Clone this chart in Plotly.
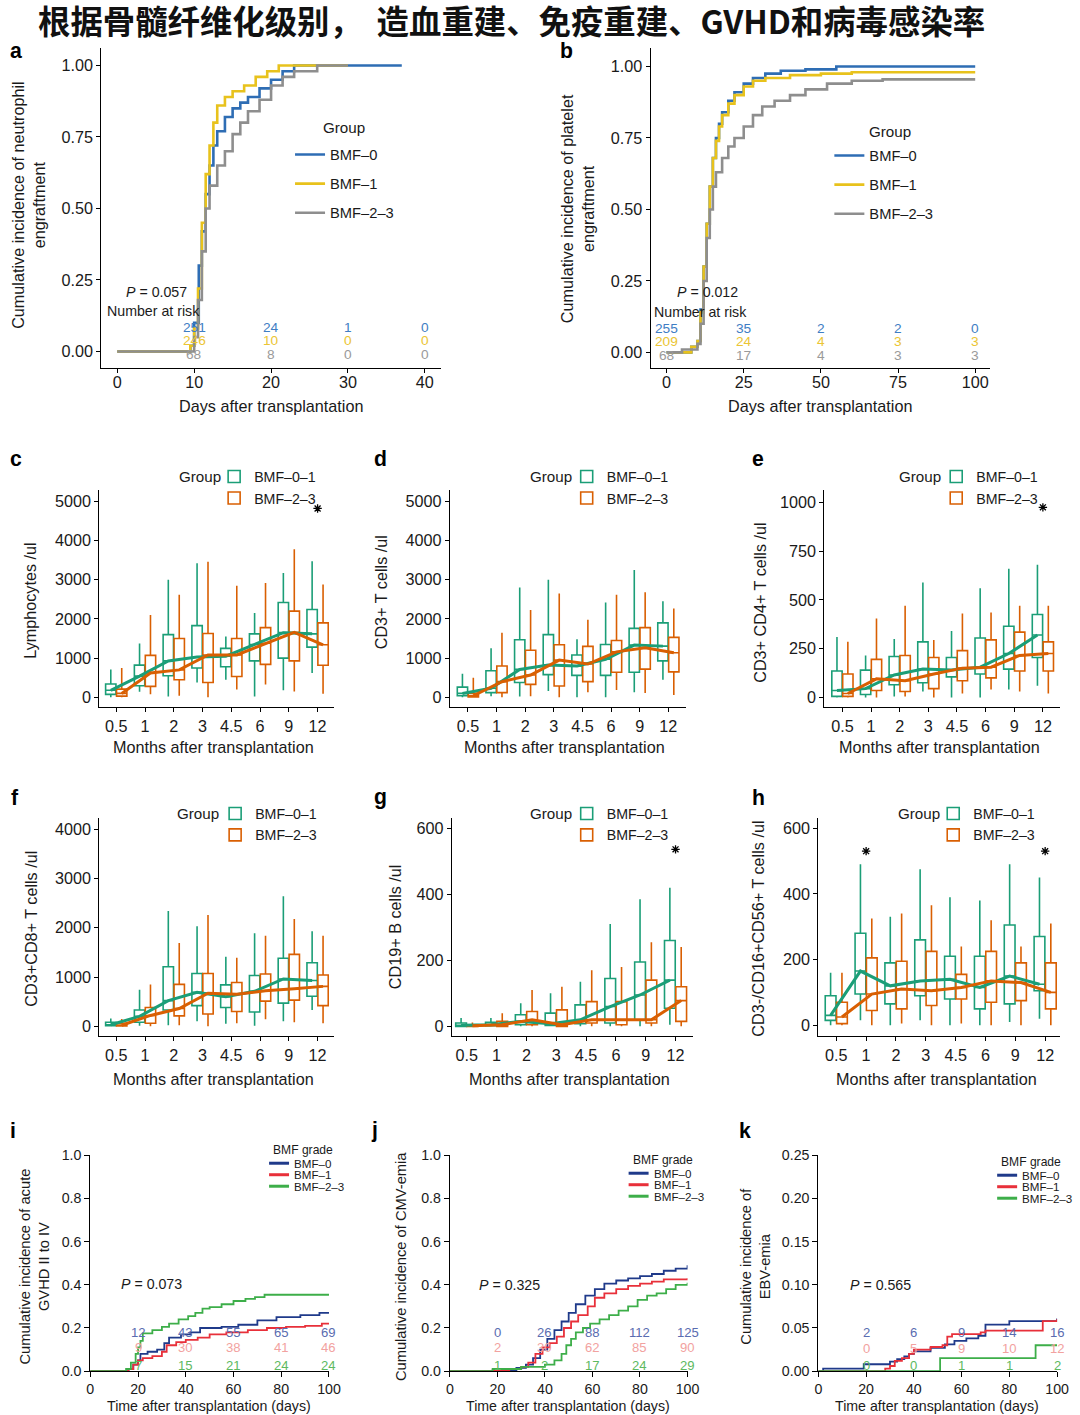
import plotly.graph_objects as go

# The photographed frame maps page pixels to picture pixels as
# picture = A * page + B (measured); positions below are given in picture
# pixels (as read from the reference) and converted back to page pixels.
AX, BX = 0.9866, 2.6
AY, BY = 0.989, 7.5
W, H = 1093, 1424
FONT = "Liberation Sans, Arial, sans-serif"
CJK = "Noto Sans CJK SC"

# ------------------------------------------------------------------ data
TITLE = "根据骨髓纤维化级别，  造血重建、免疫重建、GVHD和病毒感染率"

KM_GROUPS_AB = ["BMF\u20130", "BMF\u20131", "BMF\u20132\u20133"]

# panel a: neutrophil engraftment (days, cumulative incidence)
A_T0 = [0, 9.5, 10.0, 10.6, 11.0, 11.5, 12.0, 12.5, 13.0, 14.0, 15.0, 16.0, 17.0, 18.5, 20.0, 21.5, 23.0, 37.0]
A_Y0 = [0, 0.02, 0.10, 0.30, 0.42, 0.55, 0.65, 0.72, 0.77, 0.82, 0.85, 0.87, 0.89, 0.92, 0.95, 0.98, 1.0, 1.0]
A_T1 = [0, 9.5, 10.0, 10.5, 11.0, 11.5, 12.0, 12.5, 13.0, 14.0, 15.0, 16.5, 18.0, 19.5, 21.0, 30.0]
A_Y1 = [0, 0.02, 0.08, 0.22, 0.45, 0.62, 0.72, 0.80, 0.86, 0.89, 0.91, 0.93, 0.96, 0.98, 1.0, 1.0]
A_T2 = [0, 10.0, 10.5, 11.0, 11.5, 12.0, 13.0, 14.0, 15.0, 16.0, 17.0, 18.5, 20.0, 21.5, 23.0, 26.0, 30.0]
A_Y2 = [0, 0.05, 0.18, 0.35, 0.50, 0.58, 0.65, 0.70, 0.76, 0.80, 0.84, 0.88, 0.93, 0.96, 0.98, 1.0, 1.0]
A_RISK_T = [10, 20, 30, 40]
A_RISK0 = [251, 24, 1, 0]
A_RISK1 = [246, 10, 0, 0]
A_RISK2 = [68, 8, 0, 0]
A_P = "0.057"

# panel b: platelet engraftment
B_T0 = [0, 8, 10, 11, 12, 13, 14, 15, 16, 17, 18, 20, 22, 25, 28, 32, 37, 45, 55, 100]
B_Y0 = [0, 0.02, 0.04, 0.15, 0.30, 0.45, 0.58, 0.68, 0.75, 0.80, 0.84, 0.88, 0.91, 0.94, 0.96, 0.975, 0.985, 0.99, 1.0, 1.0]
B_T1 = [0, 8, 10, 11, 12, 13, 14, 15, 16, 17, 18, 20, 22, 25, 28, 32, 40, 50, 60, 100]
B_Y1 = [0, 0.02, 0.04, 0.14, 0.30, 0.45, 0.58, 0.68, 0.74, 0.79, 0.83, 0.87, 0.90, 0.93, 0.95, 0.96, 0.97, 0.975, 0.98, 0.98]
B_T2 = [0, 5, 10, 11, 12, 13, 14, 15, 16, 18, 20, 22, 25, 28, 31, 35, 40, 45, 52, 60, 70, 100]
B_Y2 = [0, 0.01, 0.03, 0.10, 0.25, 0.40, 0.50, 0.58, 0.63, 0.68, 0.72, 0.75, 0.79, 0.83, 0.86, 0.88, 0.90, 0.92, 0.94, 0.95, 0.955, 0.955]
B_RISK_T = [0, 25, 50, 75, 100]
B_RISK0 = [255, 35, 2, 2, 0]
B_RISK1 = [209, 24, 4, 3, 3]
B_RISK2 = [68, 17, 4, 3, 3]
B_P = "0.012"

# panels c-h: box statistics per month [lower whisker, Q1, median, Q3, upper whisker]
MONTHS = ["0.5", "1", "2", "3", "4.5", "6", "9", "12"]
BOX_GROUPS = ["BMF\u20130\u20131", "BMF\u20132\u20133"]

C_G = [[0, 76, 180, 340, 713], [144, 297, 540, 823, 1375], [20, 550, 930, 1600, 3000], [380, 750, 1030, 1830, 3420],
       [450, 780, 1050, 1250, 1550], [20, 930, 1350, 1620, 2150], [180, 1000, 1650, 2420, 3170], [620, 1280, 1620, 2240, 3470]]
C_O = [[0, 30, 100, 210, 750], [80, 280, 620, 1070, 2100], [40, 450, 700, 1500, 2620], [0, 380, 1080, 1630, 3460],
       [200, 530, 1080, 1500, 2850], [330, 840, 1380, 1780, 2920], [150, 930, 1660, 2200, 3780], [90, 820, 1340, 1900, 2880]]

D_G = [[0, 40, 100, 260, 600], [30, 120, 230, 680, 1250], [20, 380, 713, 1470, 2800], [160, 580, 823, 1600, 3000],
       [0, 560, 800, 1080, 1480], [0, 560, 970, 1350, 2420], [130, 640, 1333, 1760, 3250], [450, 930, 1307, 1900, 2450]]
D_O = [[0, 10, 40, 100, 500], [0, 120, 400, 800, 1650], [30, 330, 570, 1200, 2230], [0, 290, 950, 1340, 2650],
       [130, 400, 850, 1300, 1980], [190, 640, 1160, 1450, 2620], [110, 720, 1265, 1780, 2680], [60, 650, 1137, 1530, 2270]]

E_G = [[0, 5, 35, 135, 310], [0, 15, 45, 140, 215], [5, 65, 115, 210, 300], [30, 75, 145, 285, 590],
       [0, 105, 140, 205, 340], [0, 120, 155, 305, 560], [40, 145, 225, 365, 660], [60, 205, 320, 425, 680]]
E_O = [[0, 5, 20, 120, 285], [0, 35, 95, 195, 405], [5, 30, 85, 215, 470], [0, 45, 120, 205, 295],
       [20, 85, 150, 240, 430], [40, 100, 155, 295, 435], [30, 135, 215, 335, 470], [20, 135, 225, 285, 470]]

F_G = [[0, 10, 30, 80, 160], [10, 80, 200, 330, 740], [20, 330, 520, 1210, 2340], [100, 420, 690, 1070, 2030],
       [50, 380, 600, 840, 1410], [10, 290, 710, 1030, 1890], [100, 470, 960, 1380, 2640], [330, 610, 930, 1290, 1930]]
F_O = [[0, 5, 20, 60, 150], [0, 60, 220, 380, 850], [20, 210, 360, 850, 1690], [0, 250, 670, 1070, 2260],
       [60, 300, 650, 890, 1390], [140, 510, 720, 1060, 1840], [80, 530, 760, 1460, 2180], [60, 420, 810, 1040, 1840]]

G_G = [[0, 0, 3, 10, 25], [0, 2, 5, 12, 25], [0, 5, 15, 35, 70], [0, 3, 8, 40, 100],
       [0, 8, 20, 65, 135], [0, 10, 60, 145, 310], [0, 20, 95, 195, 385], [5, 55, 140, 260, 420]]
G_O = [[0, 0, 2, 5, 12], [0, 0, 5, 15, 40], [0, 5, 20, 45, 110], [0, 0, 5, 50, 120],
       [0, 10, 20, 75, 170], [0, 5, 20, 75, 180], [0, 10, 20, 140, 255], [0, 15, 78, 120, 240]]

H_G = [[0, 15, 30, 90, 160], [15, 95, 165, 280, 490], [0, 65, 120, 190, 330], [15, 90, 135, 260, 475],
       [0, 80, 140, 210, 390], [0, 50, 115, 210, 380], [10, 65, 150, 305, 490], [20, 105, 125, 270, 450]]
H_O = [[0, 5, 25, 70, 160], [0, 45, 95, 205, 325], [5, 50, 110, 195, 340], [0, 60, 105, 225, 365],
       [5, 80, 115, 155, 240], [0, 70, 135, 225, 320], [0, 75, 130, 190, 240], [0, 50, 100, 190, 310]]

# significance stars: (month index, y value)
C_STARS = [(7, 4820)]
E_STARS = [(7, 975)]
G_STARS = [(7, 536)]
H_STARS = [(1, 530), (7, 530)]

# panels i-k: cumulative incidence of GVHD / viraemia
KM_GROUPS_IJK = ["BMF\u20130", "BMF\u20131", "BMF\u20132\u20133"]
I_T0 = [0, 14, 16, 18, 20, 21, 24, 28, 31, 33, 38, 42, 46, 55, 62, 70, 78, 88, 96, 100]
I_Y0 = [0, 0, 0.01, 0.03, 0.05, 0.08, 0.09, 0.10, 0.13, 0.155, 0.17, 0.18, 0.20, 0.205, 0.215, 0.235, 0.25, 0.26, 0.27, 0.27]
I_T1 = [0, 16, 18, 20, 22, 26, 30, 32, 36, 40, 45, 50, 57, 66, 74, 82, 90, 97, 100]
I_Y1 = [0, 0.01, 0.03, 0.05, 0.06, 0.07, 0.09, 0.12, 0.135, 0.145, 0.155, 0.17, 0.18, 0.19, 0.20, 0.205, 0.21, 0.22, 0.22]
I_T2 = [0, 15, 17, 19, 20, 21, 22, 26, 30, 33, 37, 41, 44, 47, 50, 55, 60, 65, 69, 73, 100]
I_Y2 = [0, 0.01, 0.04, 0.08, 0.11, 0.14, 0.175, 0.19, 0.205, 0.22, 0.24, 0.255, 0.27, 0.29, 0.297, 0.31, 0.325, 0.335, 0.343, 0.354, 0.354]
I_RISK0 = [12, 43, 55, 65, 69]
I_RISK1 = [9, 30, 38, 41, 46]
I_RISK2 = [7, 15, 21, 24, 24]
I_P = "0.073"

J_T0 = [0, 20, 24, 28, 32, 35, 38, 41, 44, 47, 50, 53, 57, 61, 65, 70, 75, 80, 85, 90, 95, 100]
J_Y0 = [0, 0, 0.005, 0.015, 0.03, 0.06, 0.10, 0.15, 0.19, 0.23, 0.27, 0.31, 0.35, 0.38, 0.405, 0.42, 0.43, 0.44, 0.45, 0.465, 0.475, 0.49]
J_T1 = [0, 18, 25, 30, 33, 36, 39, 42, 45, 48, 51, 54, 58, 61, 65, 70, 75, 80, 85, 90, 100]
J_Y1 = [0, 0.005, 0.01, 0.02, 0.04, 0.08, 0.11, 0.13, 0.16, 0.20, 0.23, 0.26, 0.30, 0.34, 0.36, 0.38, 0.395, 0.405, 0.415, 0.425, 0.43]
J_T2 = [0, 18, 30, 40, 44, 47, 49, 51, 53, 56, 59, 63, 67, 71, 75, 79, 83, 87, 91, 95, 100]
J_Y2 = [0, 0.01, 0.02, 0.03, 0.05, 0.08, 0.12, 0.15, 0.18, 0.20, 0.22, 0.24, 0.26, 0.28, 0.30, 0.33, 0.35, 0.36, 0.38, 0.40, 0.41]
J_RISK0 = [0, 26, 88, 112, 125]
J_RISK1 = [2, 30, 62, 85, 90]
J_RISK2 = [1, 2, 17, 24, 29]
J_P = "0.325"

K_T0 = [0, 2, 19, 30, 33, 36, 38, 40, 47, 53, 57, 62, 67, 70, 80, 100]
K_Y0 = [0, 0.003, 0.008, 0.011, 0.014, 0.017, 0.020, 0.023, 0.027, 0.031, 0.035, 0.038, 0.041, 0.054, 0.058, 0.061]
K_T1 = [0, 28, 30, 32, 35, 38, 40, 47, 52, 54, 56, 62, 68, 70, 92, 94, 100]
K_Y1 = [0, 0.003, 0.006, 0.012, 0.015, 0.020, 0.025, 0.028, 0.030, 0.040, 0.043, 0.043, 0.045, 0.047, 0.047, 0.058, 0.060]
K_T2 = [0, 51, 91, 100]
K_Y2 = [0, 0.015, 0.030, 0.030]
K_RISK0 = [2, 6, 9, 14, 16]
K_RISK1 = [0, 5, 9, 10, 12]
K_RISK2 = [0, 0, 1, 1, 2]
K_P = "0.565"
IJK_RISK_T = [20, 40, 60, 80, 100]

# ------------------------------------------------------------------ styles
AB_COLORS = ["#2E6DB4", "#E8C21C", "#8E8E8E"]
AB_NUM_COLORS = ["#3F7EC4", "#EBC534", "#9A9A9A"]
BOX_COLORS = ["#1B9E77", "#D95F02"]
IJK_COLORS = ["#1F3A8A", "#E8303A", "#3DAE49"]
IJK_NUM_COLORS = ["#5A6CB0", "#F2A2A0", "#5DB960"]
TXT = "#1a1a1a"

fig = go.Figure()
layout = dict(width=W, height=H, margin=dict(l=0, r=0, t=0, b=0), autosize=False,
              paper_bgcolor="white", plot_bgcolor="white", showlegend=True)
annotations = []
shapes = []


def fs(s):
    return round(s / AY, 1)


def px(x):
    return ((x - BX) / AX) / W


def py(y):
    return 1 - ((y - BY) / AY) / H


def refs(n):
    return ("x", "y") if n == 1 else (f"x{n}", f"y{n}")


def add_axes(n, xpx, ypx, xrange, yrange, xtv, xtt, ytv, ytt, tsize=16, tlen=4, xstand=0):
    xr, yr = refs(n)
    common = dict(showline=True, linecolor="black", linewidth=1.1, ticks="outside", ticklen=tlen,
                  tickwidth=1, tickcolor="black", showgrid=False, zeroline=False,
                  tickfont=dict(family=FONT, size=fs(tsize), color=TXT), fixedrange=True)
    layout["xaxis" if n == 1 else f"xaxis{n}"] = dict(
        common, domain=[px(xpx[0]), px(xpx[1])], range=xrange, anchor=yr,
        tickmode="array", tickvals=xtv, ticktext=xtt, ticklabelstandoff=xstand)
    layout["yaxis" if n == 1 else f"yaxis{n}"] = dict(
        common, domain=[py(ypx[1]), py(ypx[0])], range=yrange, anchor=xr,
        tickmode="array", tickvals=ytv, ticktext=ytt)


def text(t, x, y, size=16, xanchor="center", yanchor="middle", angle=0, color=TXT,
         xref="paper", yref="paper", family=FONT):
    annotations.append(dict(text=t, x=x, y=y, xref=xref, yref=yref, xanchor=xanchor,
                            yanchor=yanchor, textangle=angle, showarrow=False,
                            font=dict(family=family, size=fs(size), color=color)))


def fmt(vals, f):
    return [format(v, f) for v in vals]


def legend_box(x, top, size):
    return dict(x=px(x), y=py(top), xanchor="left", yanchor="top", bgcolor="rgba(0,0,0,0)",
                borderwidth=0, font=dict(family=FONT, size=fs(size), color=TXT), itemwidth=30)


# ------------------------------------------------------------------ title & letters
text(f"<b>{TITLE}</b>", px(511), py(19), size=32, family=CJK, color="#111")
for lab, lx, ly in [("a", 15, 50), ("b", 566, 50), ("c", 15, 458), ("d", 380, 458), ("e", 758, 458),
                    ("f", 14, 797), ("g", 380, 797), ("h", 758, 797), ("i", 12, 1130),
                    ("j", 374, 1130), ("k", 745, 1130)]:
    text(f"<b>{lab}</b>", px(lx), py(ly), size=21, color="#000")

# ------------------------------------------------------------------ panels a, b
def km_ab(n, leg, ts, ys, risk_t, risks, p, xpx, ypx, xrange, yrange, xtv, ylab, xc, pxy, nar, legx, grp):
    xr, yr = refs(n)
    add_axes(n, xpx, ypx, xrange, yrange, xtv, [str(v) for v in xtv],
             [0, 0.25, 0.5, 0.75, 1.0], fmt([0, 0.25, 0.5, 0.75, 1.0], ".2f"), xstand=-5)
    for i, (t, y) in enumerate(zip(ts, ys)):
        fig.add_trace(go.Scatter(x=t, y=y, mode="lines", line=dict(color=AB_COLORS[i], width=2.6, shape="hv"),
                                 name=KM_GROUPS_AB[i], legend=leg, legendgroup=f"{leg}_{i}",
                                 xaxis=xr, yaxis=yr, hoverinfo="skip"))
    rows = [0.084, 0.038, -0.010]
    for i, r in enumerate(risks):
        for t, v in zip(risk_t, r):
            text(str(v), t, rows[i], size=13.5, color=AB_NUM_COLORS[i], xref=xr, yref=yr)
    text(f"<i>P</i> = {p}", px(pxy[0]), py(pxy[1]), size=14)
    text("Number at risk", px(nar[0]), py(nar[1]), size=14)
    text(ylab, px(xc[0]), py(xc[1]), size=16, angle=-90)
    text("Days after transplantation", px(xc[2]), py(406), size=16)
    text("Group", px(grp[0]), py(grp[1]), size=15, xanchor="left")
    lg = legend_box(legx[0], legx[1] - 16, 14.5)
    lg["tracegroupgap"] = 7
    layout[leg] = lg


km_ab(1, "legend", [A_T0, A_T1, A_T2], [A_Y0, A_Y1, A_Y2], A_RISK_T, [A_RISK0, A_RISK1, A_RISK2], A_P,
      (100, 440), (48, 368), [-2.08, 42.08], [-0.0594, 1.0594], [0, 10, 20, 30, 40],
      "Cumulative incidence of neutrophil<br>engraftment", (27, 205, 270), (155, 292), (152, 311),
      (289, 154), (320, 127))
km_ab(2, "legend2", [B_T0, B_T1, B_T2], [B_Y0, B_Y1, B_Y2], B_RISK_T, [B_RISK0, B_RISK1, B_RISK2], B_P,
      (650, 990), (48, 368), [-5.18, 104.85], [-0.056, 1.063], [0, 25, 50, 75, 100],
      "Cumulative incidence of platelet<br>engraftment", (577, 208, 820), (707, 292), (700, 312),
      (829, 155), (867, 131))

# ------------------------------------------------------------------ panels c-h
def box_panel(n, leg, g, o, xpx, ypx, xrange, yrange, ytv, ylab, ylx, yly, legx, grp_right, row1, stars):
    xr, yr = refs(n)
    add_axes(n, xpx, ypx, xrange, yrange, list(range(len(MONTHS))), MONTHS, ytv, [str(v) for v in ytv])
    pos = list(range(len(MONTHS)))
    meds = []
    for k, (stats, off) in enumerate([(g, -0.19), (o, 0.19)]):
        xs = [p + off for p in pos]
        fig.add_trace(go.Box(
            x=xs, lowerfence=[s[0] for s in stats], q1=[s[1] for s in stats], median=[s[2] for s in stats],
            q3=[s[3] for s in stats], upperfence=[s[4] for s in stats], width=0.36, whiskerwidth=0,
            line=dict(color=BOX_COLORS[k], width=1.6), fillcolor="white", name=BOX_GROUPS[k],
            legend=leg, boxpoints=False, xaxis=xr, yaxis=yr, hoverinfo="skip"))
        meds.append((xs, [s[2] for s in stats]))
    for k, (xs, m) in enumerate(meds):
        fig.add_trace(go.Scatter(x=xs, y=m, mode="lines", line=dict(color=BOX_COLORS[k], width=3),
                                 showlegend=False, xaxis=xr, yaxis=yr, hoverinfo="skip"))
    if stars:
        fig.add_trace(go.Scatter(x=[s[0] for s in stars], y=[s[1] for s in stars], mode="markers",
                                 marker=dict(symbol="asterisk-open", size=7, color="#000",
                                             line=dict(color="#000", width=1.3)),
                                 showlegend=False, xaxis=xr, yaxis=yr, hoverinfo="skip", cliponaxis=False))
    text(ylab, px(ylx), py(yly), size=16, angle=-90)
    text("Months after transplantation", px((xpx[0] + xpx[1]) / 2 - 3), py(ypx[1] + (40 if n < 6 else 43)), size=16)
    text("Group", px(grp_right), py(row1), size=15, xanchor="right")
    lg = legend_box(legx, row1 - 15.6, 14)
    lg["tracegroupgap"] = 0
    layout[leg] = lg


box_panel(3, "legend3", C_G, C_O, (98, 333), (490, 707), [-0.59, 7.57], [-255, 5281],
          [0, 1000, 2000, 3000, 4000, 5000], "Lymphocytes /ul", 29, 600, 213, 222, 476, C_STARS)
box_panel(4, "legend4", D_G, D_O, (449, 685), (490, 707), [-0.63, 7.6], [-255, 5281],
          [0, 1000, 2000, 3000, 4000, 5000], "CD3+ T cells /ul", 380, 592, 566, 573, 476, [])
box_panel(5, "legend5", E_G, E_O, (824, 1060), (490, 707), [-0.63, 7.6], [-51, 1062],
          [0, 250, 500, 750, 1000], "CD3+ CD4+ T cells /ul", 760, 602, 936, 943, 476, E_STARS)
box_panel(6, "legend6", F_G, F_O, (98, 333), (818, 1036), [-0.59, 7.57], [-203, 4223],
          [0, 1000, 2000, 3000, 4000], "CD3+CD8+ T cells /ul", 30, 928, 214, 220, 813, [])
box_panel(7, "legend7", G_G, G_O, (451, 692), (818, 1036), [-0.5, 7.57], [-30, 630],
          [0, 200, 400, 600], "CD19+ B cells /ul", 394, 926, 566, 573, 813, G_STARS)
box_panel(8, "legend8", H_G, H_O, (818, 1060), (818, 1036), [-0.6, 7.5], [-33.5, 630],
          [0, 200, 400, 600], "CD3-/CD16+CD56+ T cells /ul", 758, 928, 933, 942, 813, H_STARS)

# ------------------------------------------------------------------ panels i-k
def km_ijk(n, ts, ys, risks, p, xpx, ymax, ytv, yfmt, ylab, ylx, pxy, legxy, rows):
    xr, yr = refs(n)
    add_axes(n, xpx, (1155, 1371), [0, 100], [0, ymax], [0, 20, 40, 60, 80, 100],
             ["0", "20", "40", "60", "80", "100"], ytv, fmt(ytv, yfmt), tsize=14, tlen=5)
    for i, (t, y) in enumerate(zip(ts, ys)):
        fig.add_trace(go.Scatter(x=t, y=y, mode="lines", line=dict(color=IJK_COLORS[i], width=1.8, shape="hv"),
                                 name=KM_GROUPS_IJK[i], showlegend=False, xaxis=xr, yaxis=yr,
                                 hoverinfo="skip", cliponaxis=False))
    for i, r in enumerate(risks):
        for t, v in zip(IJK_RISK_T, r):
            text(str(v), t, rows[i] * ymax, size=13, color=IJK_NUM_COLORS[i], xref=xr, yref=yr)
    text(f"<i>P</i> = {p}", pxy[0], pxy[1] * ymax, size=14, xref=xr, yref=yr)
    text(ylab, px(ylx), py(1266), size=14.5, angle=-90)
    text("Time after transplantation (days)", px((xpx[0] + xpx[1]) / 2 - 1), py(1406), size=14)
    # compact key
    tx, ty = legxy
    text("BMF grade", px(tx + 12), py(ty), size=12)
    for i, name in enumerate(KM_GROUPS_IJK):
        yy = ty + 13 + 11.5 * i
        shapes.append(dict(type="line", xref="paper", yref="paper", x0=px(tx - 22), x1=px(tx - 2),
                           y0=py(yy), y1=py(yy), line=dict(color=IJK_COLORS[i], width=3)))
        text(name, px(tx + 1), py(yy), size=11.5, xanchor="left")


km_ijk(9, [I_T0, I_T1, I_T2], [I_Y0, I_Y1, I_Y2], [I_RISK0, I_RISK1, I_RISK2], I_P,
       (89, 328), 1.0, [0, 0.2, 0.4, 0.6, 0.8, 1.0], ".1f",
       "Cumulative incidence of acute<br>GVHD II to IV", 33, (25.5, 0.403), (290, 1150),
       [0.178, 0.11, 0.026])
km_ijk(10, [J_T0, J_T1, J_T2], [J_Y0, J_Y1, J_Y2], [J_RISK0, J_RISK1, J_RISK2], J_P,
       (449, 687), 1.0, [0, 0.2, 0.4, 0.6, 0.8, 1.0], ".1f",
       "Cumulative incidence of CMV-emia", 400, (25.2, 0.40), (650, 1160),
       [0.178, 0.11, 0.026])
km_ijk(11, [K_T0, K_T1, K_T2], [K_Y0, K_Y1, K_Y2], [K_RISK0, K_RISK1, K_RISK2], K_P,
       (818, 1057), 0.25, [0, 0.05, 0.10, 0.15, 0.20, 0.25], ".2f",
       "Cumulative incidence of<br>EBV-emia", 755, (26, 0.40), (1019, 1162),
       [0.178, 0.104, 0.026])

layout["annotations"] = annotations
layout["shapes"] = shapes
fig.update_layout(**layout)
fig.write_html(
    "out.html",
    config={"displayModeBar": False},
    post_script="document.documentElement.style.margin='0';document.body.style.margin='0';"
                "document.body.style.padding='0';document.documentElement.style.overflow='hidden';"
                "document.body.style.overflow='hidden';",
)
